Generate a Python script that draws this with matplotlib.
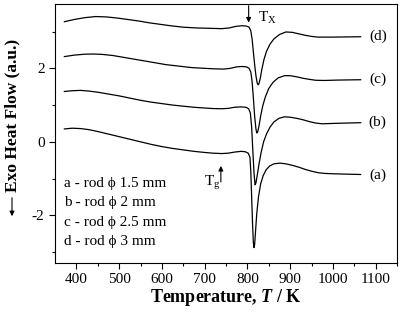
import matplotlib
matplotlib.use("Agg")
import matplotlib.pyplot as plt
from matplotlib.patches import FancyArrowPatch

plt.rcParams["font.family"] = ["Liberation Serif", "DejaVu Serif"]
plt.rcParams["mathtext.fontset"] = "custom"
plt.rcParams["mathtext.rm"] = "Liberation Serif"
plt.rcParams["mathtext.it"] = "Liberation Serif:italic"
plt.rcParams["mathtext.bf"] = "Liberation Serif:bold"
plt.rcParams["mathtext.bfit"] = "Liberation Serif:bold:italic"
plt.rcParams["axes.unicode_minus"] = False

# DSC traces (temperature in K, heat flow in a.u.)
T_a = [372, 390, 410, 430, 450, 475, 500, 525, 550, 575, 600, 625, 650, 675, 700, 720, 740, 755,
       770, 785, 795, 802, 806, 808, 810, 812, 814, 815.5, 817, 819, 822, 826, 831, 837, 844, 852,
       862, 876, 890, 905, 920, 935, 950, 965, 980, 1000, 1030, 1065]
v_a = [0.35, 0.37, 0.36, 0.33, 0.28, 0.21, 0.14, 0.07, 0.00, -0.07, -0.13, -0.18, -0.22, -0.26,
       -0.29, -0.31, -0.32, -0.31, -0.28, -0.26, -0.27, -0.31, -0.42, -0.8, -1.5, -2.2, -2.75,
       -2.88, -2.8, -2.45, -1.95, -1.5, -1.15, -0.92, -0.76, -0.66, -0.60, -0.58, -0.60, -0.64,
       -0.69, -0.75, -0.80, -0.84, -0.86, -0.87, -0.88, -0.89]

T_b = [372, 390, 410, 430, 450, 475, 500, 525, 550, 575, 600, 625, 650, 675, 700, 720, 740, 755,
       770, 785, 797, 803, 807, 810, 813, 815.5, 818, 820, 823, 827, 832, 838, 845, 853, 862, 874,
       887, 900, 915, 930, 945, 960, 975, 1000, 1030, 1065]
v_b = [1.37, 1.39, 1.40, 1.38, 1.35, 1.30, 1.25, 1.19, 1.13, 1.08, 1.04, 1.00, 0.97, 0.94, 0.92,
       0.905, 0.90, 0.91, 0.94, 0.95, 0.94, 0.90, 0.78, 0.4, -0.3, -0.85, -1.17, -1.12, -0.92,
       -0.62, -0.3, 0.0, 0.22, 0.40, 0.54, 0.64, 0.68, 0.67, 0.64, 0.60, 0.55, 0.51, 0.49, 0.50,
       0.51, 0.52]

T_c = [372, 395, 420, 440, 460, 485, 510, 535, 560, 585, 610, 640, 670, 700, 725, 745, 760, 775,
       787, 798, 804, 808, 811, 814, 817, 820, 822, 824, 827, 831, 836, 842, 850, 860, 872, 887,
       900, 915, 930, 945, 960, 980, 1010, 1065]
v_c = [2.32, 2.36, 2.385, 2.39, 2.38, 2.35, 2.30, 2.25, 2.20, 2.15, 2.10, 2.06, 2.02, 2.00, 1.985,
       1.98, 2.00, 2.04, 2.05, 2.04, 2.00, 1.90, 1.65, 1.2, 0.7, 0.35, 0.24, 0.27, 0.42, 0.7, 0.98,
       1.22, 1.45, 1.62, 1.74, 1.80, 1.80, 1.77, 1.73, 1.70, 1.675, 1.67, 1.68, 1.69]

T_d = [372, 395, 420, 445, 470, 495, 520, 545, 570, 595, 620, 650, 680, 710, 740, 758, 772, 787,
       798, 804, 808, 811, 814, 817, 820, 823, 825, 827, 830, 834, 839, 845, 853, 862, 875, 890,
       905, 920, 935, 950, 965, 1000, 1065]
v_d = [3.27, 3.33, 3.38, 3.41, 3.40, 3.37, 3.33, 3.29, 3.24, 3.20, 3.16, 3.12, 3.10, 3.09, 3.08,
       3.10, 3.14, 3.16, 3.15, 3.12, 3.02, 2.8, 2.45, 2.1, 1.8, 1.6, 1.55, 1.58, 1.72, 1.98, 2.25,
       2.47, 2.66, 2.80, 2.92, 2.99, 2.98, 2.94, 2.90, 2.87, 2.85, 2.85, 2.86]

curve_labels = ["(a)", "(b)", "(c)", "(d)"]
label_y = [-0.90, 0.54, 1.69, 2.86]
legend_lines = ["a - rod \u03d5 1.5 mm", "b - rod \u03d5 2 mm",
                "c - rod \u03d5 2.5 mm", "d - rod \u03d5 3 mm"]
legend_y = [-1.14, -1.66, -2.20, -2.72]

fig = plt.figure(figsize=(4, 3.12), dpi=100)
ax = fig.add_axes([0.1375, 0.157, 0.855, 0.83])

for T, v in [(T_a, v_a), (T_b, v_b), (T_c, v_c), (T_d, v_d)]:
    ax.plot(T, v, color="k", linewidth=0.9)

for lbl, y in zip(curve_labels, label_y):
    ax.text(1105, y, lbl, ha="center", va="center", fontsize=11)

for line, y in zip(legend_lines, legend_y):
    ax.text(372, y, line, ha="left", va="center", fontsize=11)

# T_x and T_g markers
ax.annotate("", xy=(803, 3.17), xytext=(803, 3.78),
            arrowprops=dict(arrowstyle="-|>", color="k", lw=0.8, mutation_scale=7))
ax.text(826, 3.36, "T$_\\mathrm{X}$", fontsize=11, ha="left", va="center")
ax.annotate("", xy=(738, -0.58), xytext=(738, -1.17),
            arrowprops=dict(arrowstyle="-|>", color="k", lw=0.8, mutation_scale=7))
ax.text(698, -1.12, "T$_\\mathrm{g}$", fontsize=11, ha="left", va="center")

ax.set_xlim(350, 1150)
ax.set_ylim(-3.3, 3.75)
ax.set_xticks(range(400, 1101, 100))
ax.set_xticks(range(450, 1151, 100), minor=True)
ax.set_yticks([-2, 0, 2])
ax.set_yticks([-3, -1, 1, 3], minor=True)
ax.tick_params(which="major", direction="out", length=4, width=0.8, labelsize=11)
ax.tick_params(which="minor", direction="out", length=2.5, width=0.8)
ax.tick_params(top=False, right=False)

fig.text(0.565, 1 - 298 / 312, "Temperature, $\\mathbfit{T}$ / K", fontsize=13,
         fontweight="bold", ha="center", va="center")
fig.text(0.03, 0.63, "Exo Heat Flow (a.u.)", rotation=90, fontsize=12.5,
         fontweight="bold", ha="center", va="center")
fig.patches.append(FancyArrowPatch(
    (0.03, 1 - 195 / 312), (0.03, 1 - 219 / 312), transform=fig.transFigure,
    arrowstyle="-|>", mutation_scale=7, color="k", lw=0.8))

fig.savefig("out.png", dpi=100)
